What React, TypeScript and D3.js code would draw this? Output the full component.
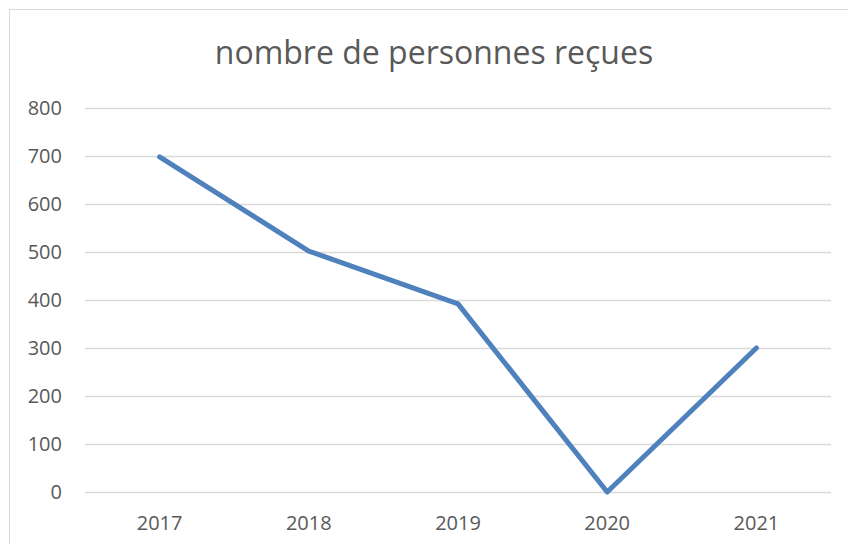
import React, { useRef, useEffect } from 'react';
import * as d3 from 'd3';

const years = ['2017', '2018', '2019', '2020', '2021'];
const personnes = [698, 502, 392, 0, 300];
const yTicks = [0, 100, 200, 300, 400, 500, 600, 700, 800];
const title = 'nombre de personnes reçues';

const App = () => {
  const svgRef = useRef<SVGSVGElement>(null);

  useEffect(() => {
    const width = 848;
    const height = 544;
    const svg = d3.select(svgRef.current);
    svg.selectAll('*').remove();

    const margin = { top: 108, right: 17, bottom: 52, left: 85 };
    const innerWidth = width - margin.left - margin.right;
    const innerHeight = height - margin.top - margin.bottom;
    const font = '"Open Sans", "Noto Sans", sans-serif';
    const textColor = '#595959';

    // Chart frame (right and bottom edges fall outside the picture)
    svg.append('rect')
      .attr('x', 9.5)
      .attr('y', 9.5)
      .attr('width', 860)
      .attr('height', 560)
      .attr('fill', '#fff')
      .attr('stroke', '#d9d9d9')
      .attr('stroke-width', 1);

    svg.append('text')
      .attr('x', 434)
      .attr('y', 64)
      .attr('text-anchor', 'middle')
      .attr('fill', textColor)
      .style('font-family', font)
      .style('font-size', '32px')
      .text(title);

    const xScale = d3.scaleBand()
      .domain(years)
      .range([0, innerWidth]);

    const yScale = d3.scaleLinear()
      .domain([0, 800])
      .range([innerHeight, 0]);

    const g = svg.append('g')
      .attr('transform', `translate(${margin.left}, ${margin.top})`);

    // Gridlines
    g.selectAll('.grid')
      .data(yTicks)
      .join('line')
      .attr('class', 'grid')
      .attr('x1', 0)
      .attr('x2', innerWidth)
      .attr('y1', d => Math.round(yScale(d)) + 0.5)
      .attr('y2', d => Math.round(yScale(d)) + 0.5)
      .attr('stroke', '#d9d9d9')
      .attr('stroke-width', 1.5);

    // Y labels
    g.selectAll('.ylabel')
      .data(yTicks)
      .join('text')
      .attr('class', 'ylabel')
      .attr('x', -23)
      .attr('y', d => yScale(d))
      .attr('dy', '0.35em')
      .attr('text-anchor', 'end')
      .attr('fill', textColor)
      .style('font-family', font)
      .style('font-size', '20px')
      .text(d => d);

    // X labels
    g.selectAll('.xlabel')
      .data(years)
      .join('text')
      .attr('class', 'xlabel')
      .attr('x', d => xScale(d)! + xScale.bandwidth() / 2)
      .attr('y', innerHeight + 38)
      .attr('text-anchor', 'middle')
      .attr('fill', textColor)
      .style('font-family', font)
      .style('font-size', '20px')
      .text(d => d);

    const line = d3.line<number>()
      .x((d, i) => xScale(years[i])! + xScale.bandwidth() / 2)
      .y(d => yScale(d));

    g.append('path')
      .datum(personnes)
      .attr('d', line)
      .attr('fill', 'none')
      .attr('stroke', '#4f81bd')
      .attr('stroke-width', 5)
      .attr('stroke-linejoin', 'round')
      .attr('stroke-linecap', 'round');
  }, []);

  return (
    <svg
      ref={svgRef}
      width={848}
      height={544}
      style={{ position: 'absolute', left: 0, top: 0, display: 'block' }}
    />
  );
};

export default App;
